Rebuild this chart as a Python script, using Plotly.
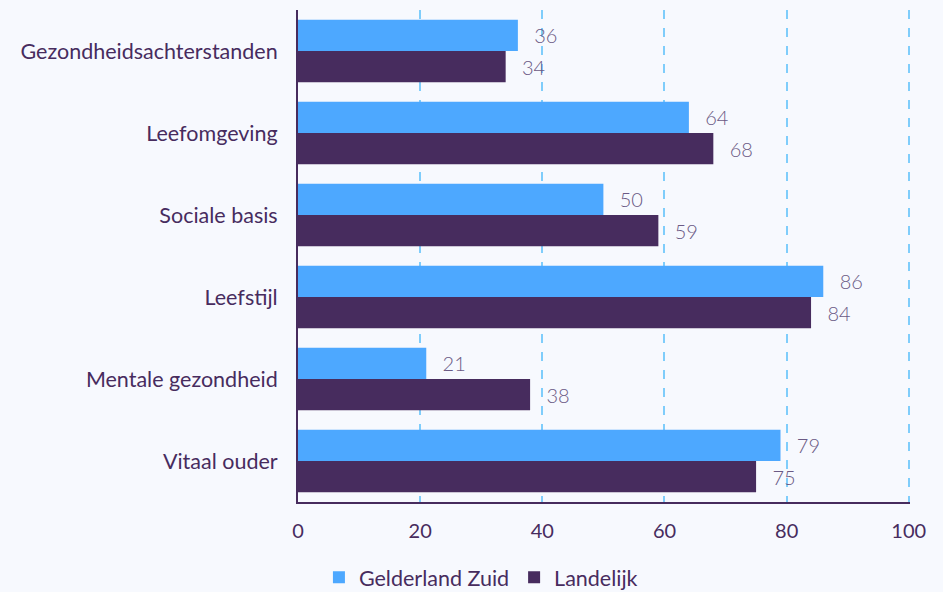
import plotly.graph_objects as go

categories = ["Gezondheidsachterstanden", "Leefomgeving", "Sociale basis", "Leefstijl",
              "Mentale gezondheid", "Vitaal ouder"]
gelderland_zuid = [36, 64, 50, 86, 21, 79]
landelijk = [34, 68, 59, 84, 38, 75]
x_ticks = [0, 20, 40, 60, 80, 100]

BLUE = "#4da8ff"
PURPLE = "#472c5e"
BG = "#f7f9fe"
TXT = "#472c5e"
LBL = "#6b5a85"

pad = "\u00a0\u00a0\u2009"

fig = go.Figure()
for name, vals, col in [("Gelderland Zuid", gelderland_zuid, BLUE),
                        ("Landelijk", landelijk, PURPLE)]:
    fig.add_trace(go.Bar(
        y=categories, x=vals, name=name, orientation="h",
        marker=dict(color=col, line=dict(width=0)),
        text=vals, texttemplate=pad + "%{x}", textposition="outside",
        textfont=dict(family="Lato", size=20, color=LBL, weight=300),
        cliponaxis=False,
    ))

fig.update_layout(
    width=943, height=592,
    barmode="group", bargap=0.24, bargroupgap=0.0,
    paper_bgcolor=BG, plot_bgcolor=BG,
    margin=dict(l=298, r=33, t=10, b=90, autoexpand=False),
    font=dict(family="Lato", size=20, color=TXT, weight=400),
    showlegend=True,
    legend=dict(orientation="h", xref="container", x=0.51, xanchor="center",
                yref="container", y=0.025, yanchor="middle",
                font=dict(family="Lato", size=21.5, color=TXT),
                itemwidth=30, traceorder="normal"),
    xaxis=dict(range=[0, 100.2], tickvals=x_ticks, showgrid=True,
               gridcolor="#7fcdfb", griddash="dash", gridwidth=1.5,
               showline=True, linecolor=PURPLE, linewidth=2,
               zeroline=False, ticks="", ticklabelstandoff=10,
               tickfont=dict(size=20, color=TXT)),
    yaxis=dict(autorange="reversed", showline=True, linecolor=PURPLE, linewidth=2,
               showgrid=False, ticks="", ticklabelstandoff=14,
               tickfont=dict(size=21.5, color=TXT)),
)

fig.write_html("out.html", config={"responsive": False, "displayModeBar": False},
               post_script="document.body.style.margin='0';document.body.style.overflow='hidden';")
